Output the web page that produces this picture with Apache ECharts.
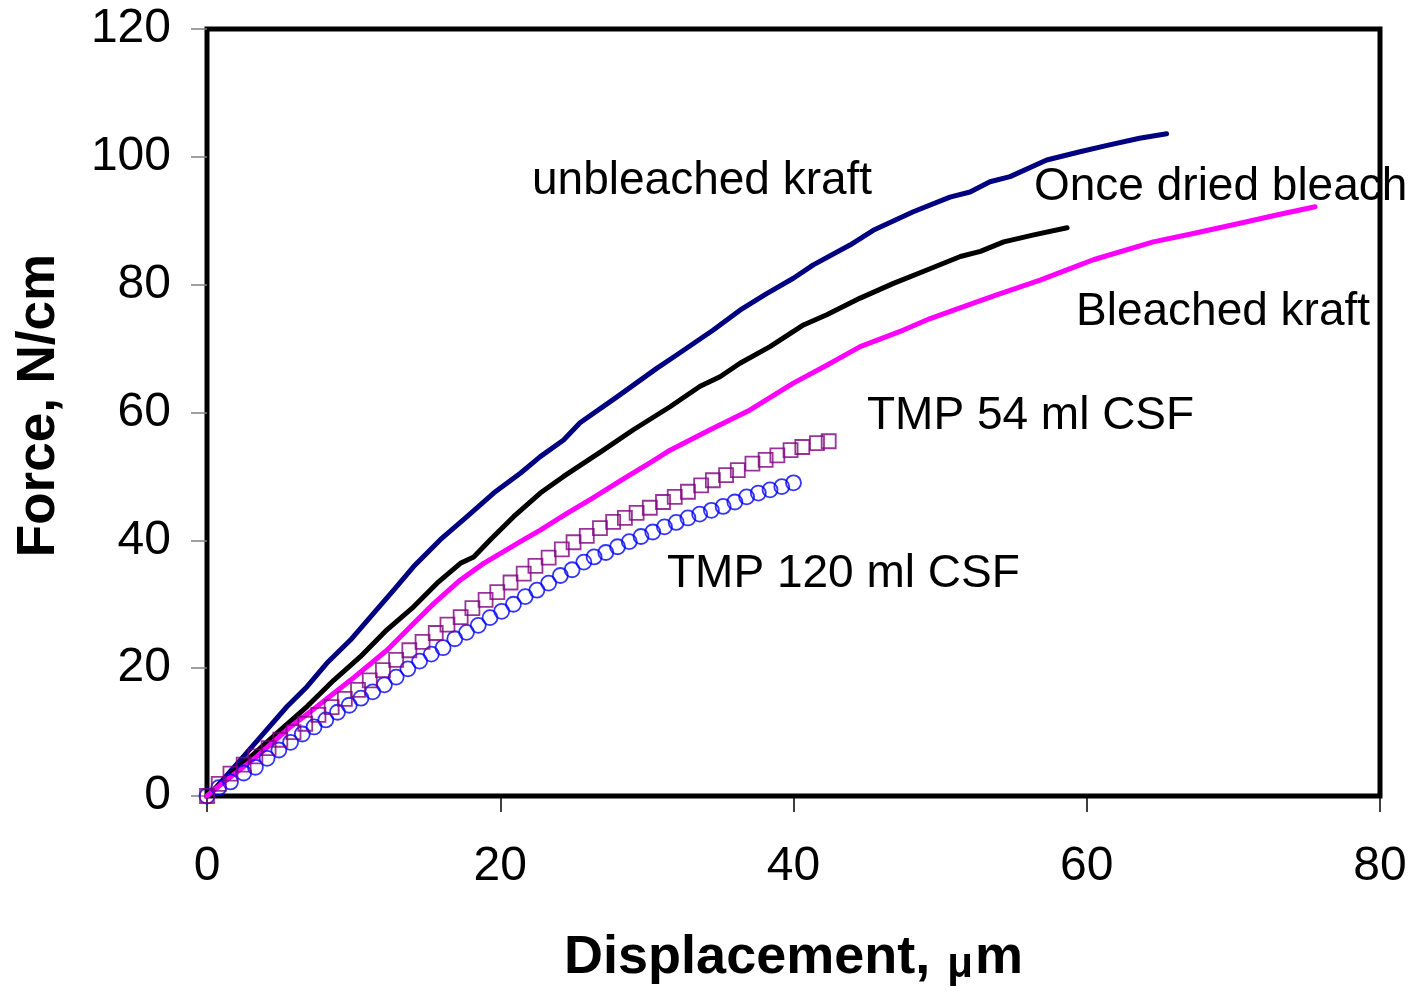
<!DOCTYPE html>
<html>
<head>
<meta charset="utf-8">
<script src="https://cdn.jsdelivr.net/npm/echarts@6/dist/echarts.min.js"></script>
<style>
  html, body { margin: 0; padding: 0; background: #fff; }
  #chart { width: 1414px; height: 993px; }
</style>
</head>
<body>
<div id="chart"></div>
<script>
// Force–displacement curves for kraft and TMP handsheets
// [displacement (µm), force (N/cm)]
const unbleachedKraft = [
  [0,0],[0.45,0.9],[2.27,5.6],[3.86,9.8],[5.46,14.0],[6.82,17.1],[8.18,20.8],[9.78,24.4],
  [11.37,28.6],[12.73,32.2],[14.09,35.9],[15.91,40.1],[17.73,43.7],[19.55,47.4],[21.37,50.5],
  [22.73,53.1],[24.32,55.7],[25.44,58.4],[27.94,62.4],[30.67,66.9],[32.03,69.0],[34.53,72.9],
  [36.35,76.0],[38.17,78.6],[39.99,81.0],[41.35,83.1],[43.85,86.2],[45.44,88.5],[48.17,91.4],
  [50.67,93.7],[52.04,94.5],[53.4,96.1],[54.77,96.9],[57.27,99.5],[59.54,100.8],[61.4,101.8],
  [63.6,102.9],[65.45,103.6]
];
const onceDriedBleached = [
  [0,0],[0.45,0.9],[2.73,5.6],[5.0,10.3],[6.82,14.0],[8.64,18.1],[10.46,21.8],[12.27,26.0],
  [14.09,29.6],[15.69,33.3],[17.28,36.4],[18.19,37.4],[19.32,40.1],[20.91,43.7],[22.73,47.4],
  [24.32,50.0],[27.03,54.1],[29.08,57.3],[31.58,60.9],[33.63,64.1],[34.99,65.6],[36.35,67.7],
  [38.4,70.3],[40.68,73.7],[42.27,75.3],[44.55,77.9],[46.82,80.2],[49.1,82.3],[51.38,84.4],
  [52.75,85.2],[54.34,86.7],[56.39,87.8],[58.66,88.9]
];
const bleachedKraft = [
  [0,0],[0.45,0.9],[3.41,6.2],[5.68,10.8],[7.5,14.0],[9.78,18.1],[12.27,22.8],[14.09,27.0],
  [15.46,30.1],[17.28,33.8],[18.87,36.4],[21.6,40.1],[22.73,41.6],[24.55,44.2],[26.3,46.6],
  [28.4,49.6],[30.4,52.4],[31.58,54.1],[34.31,57.3],[37.04,60.4],[39.99,64.6],[42.27,67.4],
  [44.55,70.3],[47.5,72.9],[49.32,74.7],[52.27,77.1],[53.86,78.4],[56.82,80.7],[59.54,83.1],
  [60.45,83.9],[64.54,86.7],[67.27,88.0],[70.45,89.6],[72.95,90.9],[75.57,92.2]
];
const tmp54 = [
  [0,0],[0.8,1.9],[1.6,3.5],[2.5,4.9],[3.3,6.2],[4.2,7.5],[5.0,8.8],[5.9,10.0],[6.7,11.3],
  [7.6,12.7],[8.5,13.9],[9.4,15.2],[10.3,16.6],[11.1,18.1],[12.0,19.7],[12.9,21.3],[13.8,22.8],
  [14.7,24.1],[15.6,25.5],[16.4,26.8],[17.3,28.0],[18.1,29.4],[19.0,30.7],[19.8,31.9],
  [20.7,33.4],[21.6,34.8],[22.4,36.0],[23.3,37.3],[24.2,38.6],[25.0,39.7],[25.9,40.7],
  [26.8,41.9],[27.7,42.9],[28.5,43.5],[29.3,44.3],[30.2,45.1],[31.1,46.0],[31.9,46.8],
  [32.8,47.6],[33.7,48.6],[34.5,49.4],[35.4,50.2],[36.2,51.0],[37.2,52.0],[38.1,52.6],
  [38.9,53.3],[39.8,54.1],[40.6,54.6],[41.6,55.2],[42.4,55.5]
];
const tmp120 = [
  [0,0],[0.8,1.3],[1.6,2.2],[2.5,3.6],[3.3,4.5],[4.1,5.9],[4.9,7.2],[5.7,8.4],[6.5,9.7],
  [7.3,10.8],[8.1,11.9],[8.9,13.1],[9.7,14.2],[10.5,15.3],[11.3,16.3],[12.1,17.4],[12.9,18.6],
  [13.7,19.9],[14.5,21.1],[15.3,22.2],[16.1,23.2],[16.9,24.6],[17.7,25.6],[18.5,26.7],
  [19.3,27.9],[20.1,28.9],[20.9,30.0],[21.7,31.2],[22.5,32.2],[23.3,33.3],[24.1,34.5],
  [24.9,35.4],[25.7,36.6],[26.4,37.4],[27.2,38.1],[28.0,39.0],[28.8,39.8],[29.6,40.6],
  [30.4,41.3],[31.2,42.1],[32.0,42.8],[32.8,43.5],[33.6,44.1],[34.4,44.7],[35.2,45.3],
  [36.0,46.0],[36.8,46.8],[37.6,47.4],[38.4,47.9],[39.2,48.4],[40.0,49.0]
];

const xTicks = { min: 0, max: 80, interval: 20 };
const yTicks = { min: 0, max: 120, interval: 20 };

const curveLabels = [
  { text: 'unbleached kraft', left: 532, y: 181 },
  { text: 'Once dried bleach', left: 1034, y: 187 },
  { text: 'Bleached kraft', left: 1076, y: 312 },
  { text: 'TMP 54 ml CSF', left: 867, y: 416 },
  { text: 'TMP 120 ml CSF', left: 667, y: 574 }
];

const FONT = '"Liberation Sans", Arial, sans-serif';

const chart = echarts.init(document.getElementById('chart'), null, { renderer: 'canvas' });

function lineSeries(name, data, color) {
  return {
    name, type: 'line', data, symbol: 'none', smooth: false,
    lineStyle: { color, width: 5, join: 'round', cap: 'round' }, silent: true, z: 2
  };
}
function markerSeries(name, data, symbol, size, color) {
  return {
    name, type: 'scatter', data, symbol, symbolSize: size, silent: true, z: 3,
    itemStyle: { color: 'rgba(0,0,0,0)', borderColor: color, borderWidth: 1.8 }
  };
}

chart.setOption({
  animation: false,
  backgroundColor: '#fff',
  grid: {
    left: 207, top: 29, right: 34, bottom: 197,
    outerBoundsMode: 'none', containLabel: false,
    show: true, borderColor: '#000', borderWidth: 5, backgroundColor: 'transparent'
  },
  xAxis: {
    type: 'value', min: xTicks.min, max: xTicks.max, interval: xTicks.interval,
    name: 'Displacement, {mu|\u03bc}m', nameLocation: 'middle', nameGap: 134,
    nameTextStyle: {
      fontFamily: FONT, fontSize: 54, fontWeight: 'bold', color: '#000',
      rich: { mu: { fontFamily: FONT, fontSize: 42, fontWeight: 'bold', color: '#000', padding: [14, 2, 0, 2] } }
    },
    axisLine: { show: false },
    axisTick: { show: true, inside: false, length: 16, lineStyle: { color: '#000', width: 1.5 } },
    axisLabel: { fontFamily: FONT, fontSize: 48, color: '#000', margin: 47 },
    splitLine: { show: false }
  },
  yAxis: {
    type: 'value', min: yTicks.min, max: yTicks.max, interval: yTicks.interval,
    name: 'Force, N/cm', nameLocation: 'middle', nameGap: 141, nameRotate: 90,
    nameTextStyle: { fontFamily: FONT, fontSize: 53, fontWeight: 'bold', color: '#000', padding: [0, 0, 0, 14] },
    axisLine: { show: false },
    axisTick: { show: true, inside: false, length: 16, lineStyle: { color: '#808080', width: 1.5 } },
    axisLabel: { fontFamily: FONT, fontSize: 48, color: '#000', margin: 36 },
    splitLine: { show: false }
  },
  series: [
    lineSeries('unbleached kraft', unbleachedKraft, '#000080'),
    lineSeries('Once dried bleach', onceDriedBleached, '#000000'),
    lineSeries('Bleached kraft', bleachedKraft, '#FF00FF'),
    markerSeries('TMP 120 ml CSF', tmp120, 'circle', 15, '#0000FF'),
    markerSeries('TMP 54 ml CSF', tmp54, 'rect', 14, '#800080')
  ],
  graphic: curveLabels.map(l => ({
    type: 'text', left: l.left, top: l.y - 23, z: 10, silent: true,
    style: { text: l.text, fontFamily: FONT, fontSize: 46, fill: '#000' }
  }))
});
</script>
</body>
</html>
